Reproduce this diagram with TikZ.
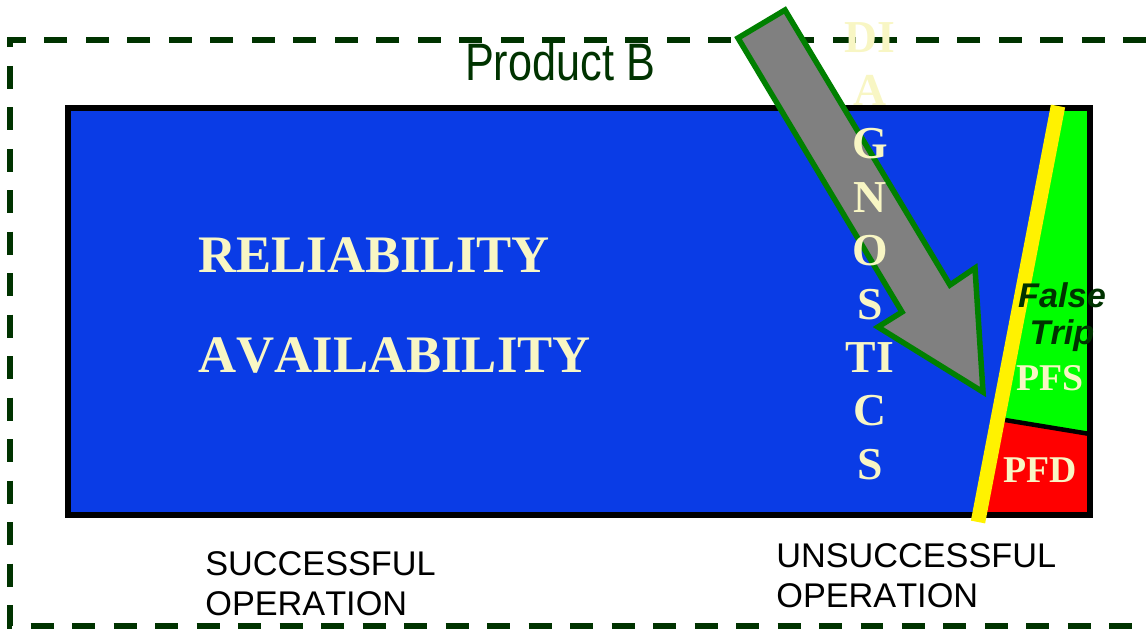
\documentclass[tikz,border=0pt]{standalone}
\usepackage{fontspec}
\setmainfont[Kerning=Off]{Liberation Serif}
\setsansfont[Kerning=Off]{Liberation Sans}
\newfontfamily\narrowsans[FakeStretch=0.82]{Liberation Sans}
\usepackage{xcolor}
\definecolor{framegreen}{HTML}{003300}
\definecolor{fieldblue}{HTML}{0A3CE6}
\definecolor{cream}{HTML}{F8F6C4}
\definecolor{arrowgreen}{HTML}{008000}
\tikzset{
  bigword/.style={text=cream, font=\bfseries\fontsize{30}{36}\selectfont, inner sep=0pt},
  opword/.style={font=\sffamily\fontsize{19.5}{22.7}\selectfont, align=left, inner sep=0pt}
}

\begin{document}
\begin{tikzpicture}[
  x=0.02cm, y=-0.02cm,
  edge/.style={draw=black, line width=0.12cm},
  smallword/.style={text=cream, font=\bfseries\fontsize{21.5}{26}\selectfont, inner sep=0pt}
]
\useasboundingbox (0,0) rectangle (1146,630);

\draw[framegreen, line width=0.12cm, dash pattern=on 0.46cm off 0.37cm]
  (1146,40) -- (10,40) -- (10,626) -- (1146,626);

\fill[fieldblue] (68,108) rectangle (1090,515);
\fill[green] (1058,108) -- (1090,108) -- (1090,433) -- (1005,420) -- cycle;
\fill[red] (1005,420) -- (1090,433) -- (1090,515) -- (980,515) -- cycle;
\draw[edge] (68,108) rectangle (1090,515);
\draw[edge, line width=0.09cm] (1005,420) -- (1090,434);
\draw[yellow, line width=0.29cm] (1058,106) -- (978,522);

\filldraw[fill=gray, draw=arrowgreen, line width=0.11cm, line join=miter]
  (738,38) -- (785,10) -- (950,285) -- (975,268) -- (983,392)
  -- (878,327) -- (902,312) -- cycle;

\node[text=framegreen, font=\narrowsans\fontsize{30}{36}\selectfont, inner sep=0pt] (product) at (560,62) {Product B};
\node[bigword, anchor=west] (reliability) at (198,255) {RELIABILITY};
\node[bigword, anchor=west] (availability) at (198,355) {AVAILABILITY};
\node[text=cream, font=\bfseries\fontsize{26}{30.4}\selectfont, align=center, inner sep=0pt] (diag) at (870,251)
  {DI\\A\\G\\N\\O\\S\\TI\\C\\S};
\node[text=framegreen, font=\sffamily\bfseries\itshape\fontsize{19.5}{21.5}\selectfont, align=center, inner sep=0pt, anchor=north] (falsetrip) at (1062,282) {False\\Trip};
\node[smallword] (pfs) at (1050,378) {PFS};
\node[smallword] (pfd) at (1040,470) {PFD};
\node[opword, anchor=north west] (success) at (205,551) {SUCCESSFUL\\OPERATION};
\node[opword, anchor=north west] (fail) at (776,543) {UNSUCCESSFUL\\OPERATION};
\end{tikzpicture}
\end{document}
